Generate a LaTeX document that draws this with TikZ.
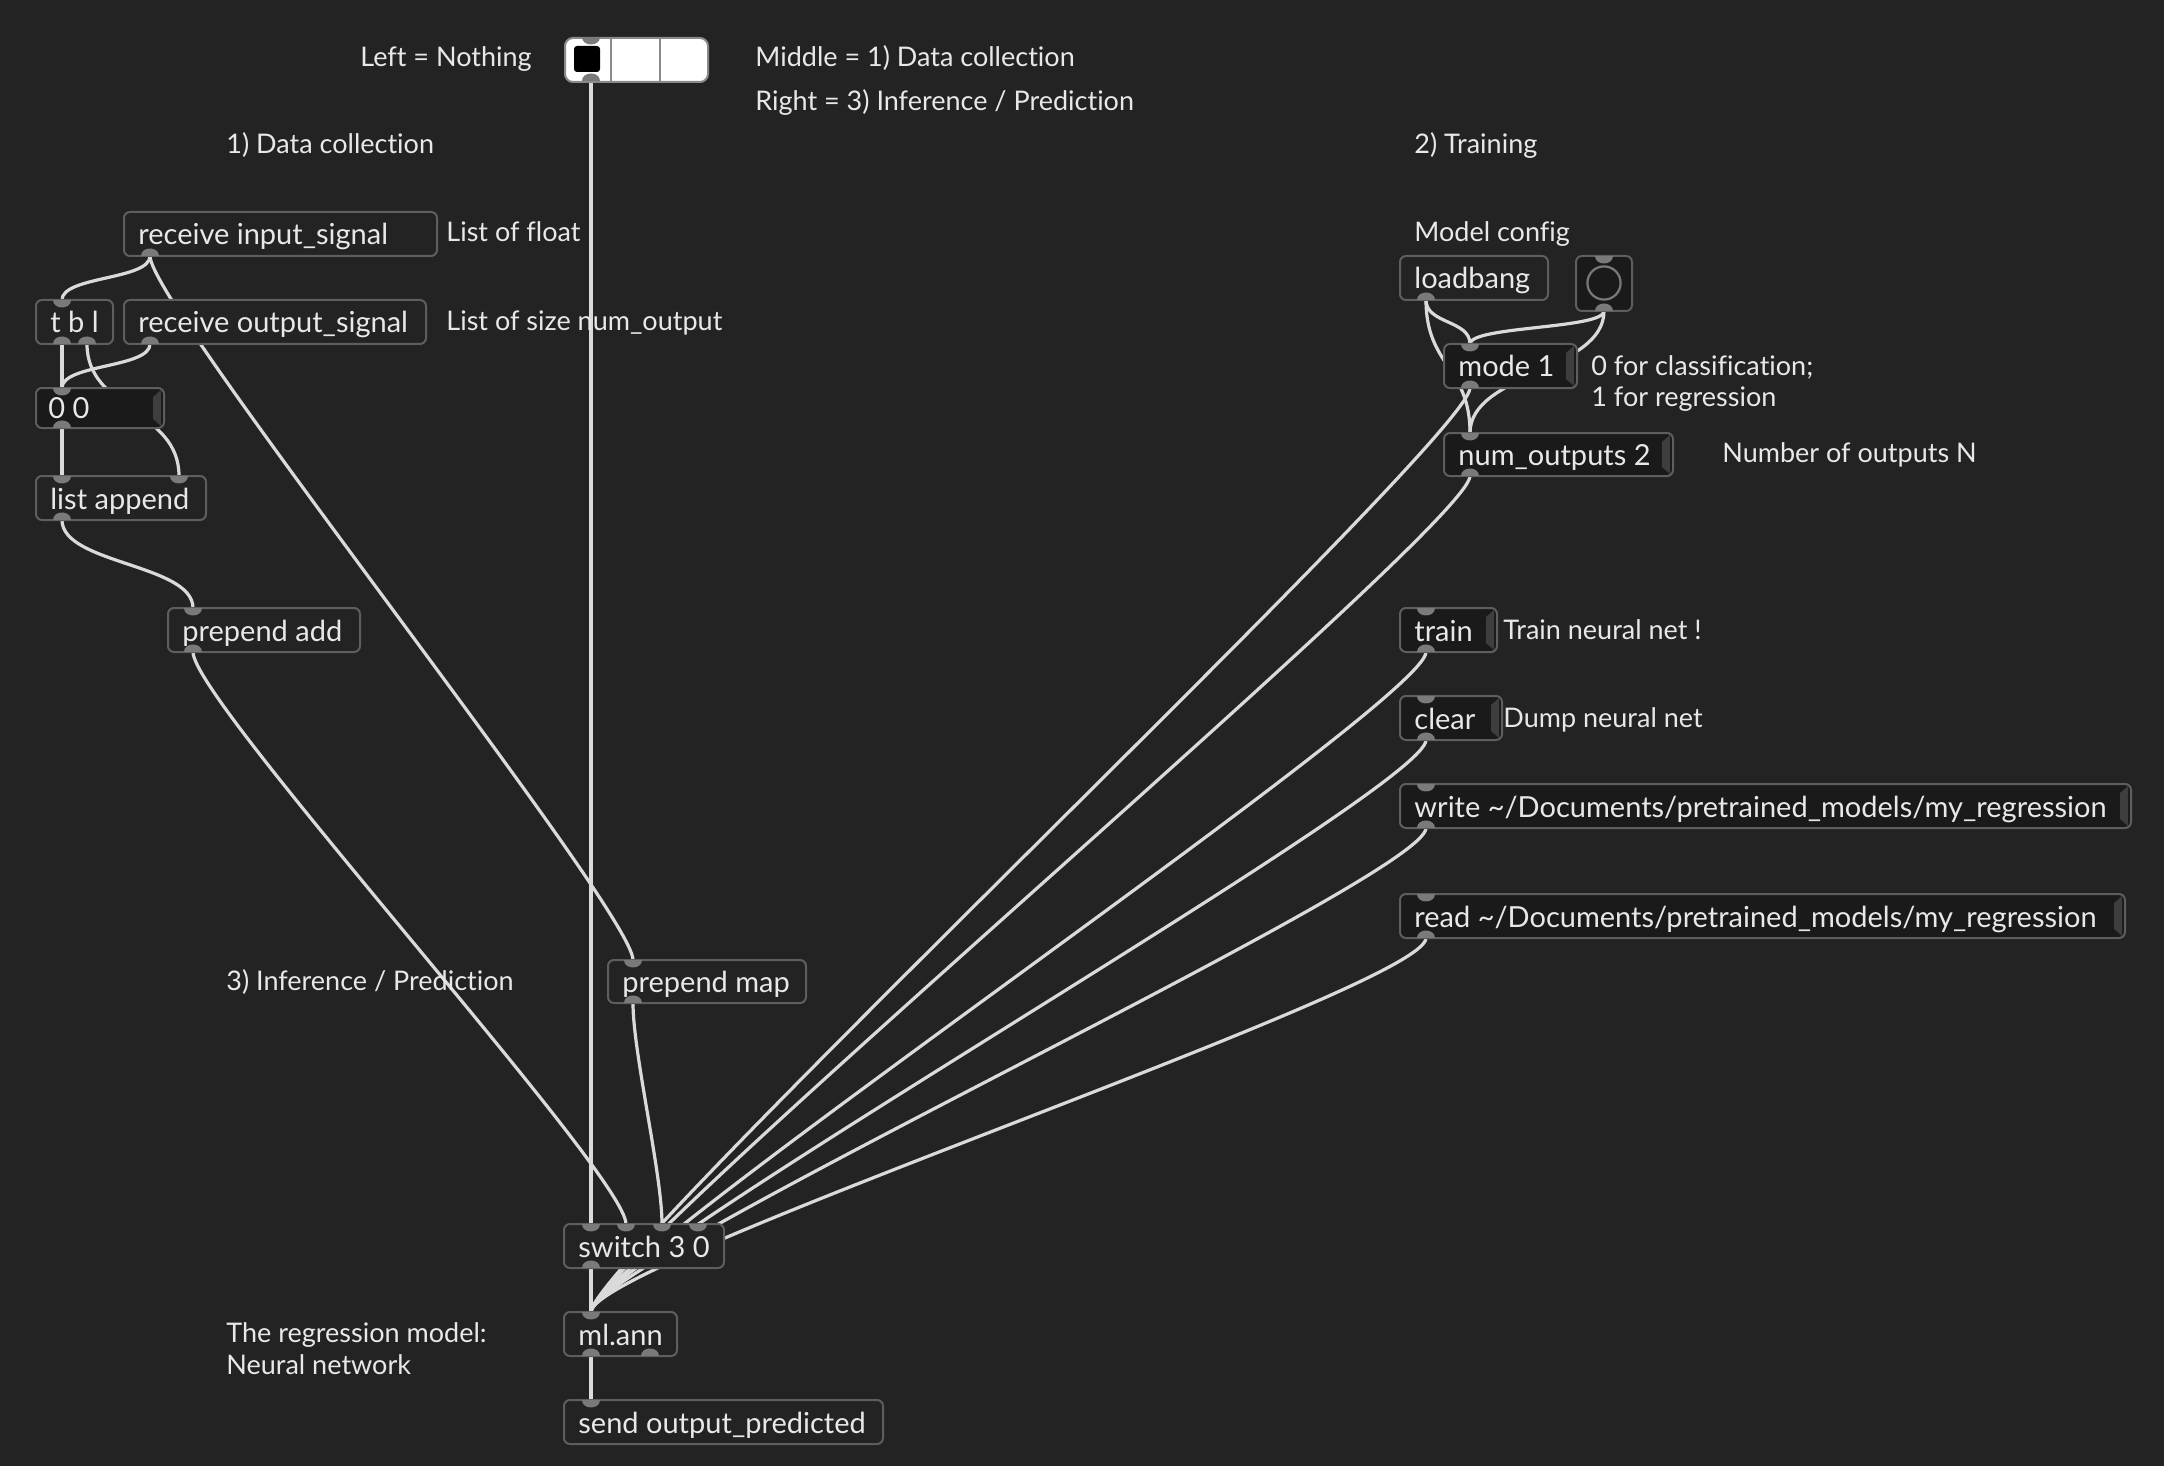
\documentclass[tikz,border=0pt]{standalone}
\usepackage{fontspec}
\setmainfont[Ligatures=NoCommon]{Lato}
\pgfdeclarelayer{backdrop}
\pgfdeclarelayer{cables}
\pgfsetlayers{backdrop,cables,main}

\definecolor{bgc}{HTML}{232323}
\definecolor{boxline}{HTML}{5E5E5E}
\definecolor{objfill}{HTML}{232323}
\definecolor{msgfill}{HTML}{1A1A1A}
\definecolor{tabc}{HTML}{3E3E3E}
\definecolor{portc}{HTML}{7A7A7A}
\definecolor{cablec}{HTML}{DADADA}
\definecolor{txtc}{HTML}{E8E8E8}
\definecolor{tabline}{HTML}{8A8A8A}

\tikzset{
  patch/.style={draw=boxline, line width=1pt, rounded corners=3pt, inner sep=0pt, outer sep=0pt},
  objbox/.style={patch, fill=objfill},
  msgbox/.style={patch, fill=msgfill},
  boxtext/.style={anchor=base west, inner sep=0pt, text=txtc, font=\fontsize{14.5}{17}\selectfont},
  comment/.style={anchor=base west, inner sep=0pt, text=txtc, font=\fontsize{13.5}{16}\selectfont},
  cable/.style={draw=cablec, line width=1.6pt, line cap=round},
}

% box: name, style, x1, y1, x2, y2, label  (pixel coordinates, y downwards)
\newcommand{\pbox}[7]{%
  \node[#2, anchor=north west, minimum width={(#5-#3)*0.5pt}, minimum height={(#6-#4)*0.5pt}] (#1) at (#3,#4) {};
  \node[boxtext] (#1-label) at ({#3+14},{(#4+#6)/2+11}) {#7};
}
% bevelled strip on the right of a message box
\newcommand{\msgtab}[1]{%
  \fill[tabc] ([shift={(-11,9)}]#1.north east) -- ([shift={(-3,2)}]#1.north east)
    -- ([shift={(-3,-2)}]#1.south east) -- ([shift={(-11,-9)}]#1.south east) -- cycle;
}
% inlet / outlet: name, x, y
\newcommand{\inport}[3]{%
  \coordinate (#1) at (#2,#3);
  \fill[portc] ({#2-9},#3) .. controls ({#2-9},{#3+10}) and ({#2+9},{#3+10}) .. ({#2+9},#3) -- cycle;
}
\newcommand{\outport}[3]{%
  \coordinate (#1) at (#2,#3);
  \fill[portc] ({#2-9},#3) .. controls ({#2-9},{#3-10}) and ({#2+9},{#3-10}) .. ({#2+9},#3) -- cycle;
}
% patch cord between two ports, optional vertical pull
\newcommand{\cord}[3][50]{%
  \draw[cable] (#2) .. controls ([yshift={-#1*0.5pt}]#2) and ([yshift={#1*0.5pt}]#3) .. (#3);
}

\begin{document}
\begin{tikzpicture}[x=0.5pt, y=-0.5pt]
\begin{pgfonlayer}{backdrop}
  \fill[bgc] (0,0) rectangle (2164,1466);
\end{pgfonlayer}
\useasboundingbox (0,0) rectangle (2164,1466);

% ---------- mode selector ----------
\node[draw=tabline, fill=white, line width=1pt, rounded corners=4pt, inner sep=0pt,
      minimum width={(707-564)*0.5pt}, minimum height={(81-37)*0.5pt}, anchor=north west] (tab) at (564,37) {};
\draw[tabline, line width=1pt] (611,37) -- (611,81) (660,37) -- (660,81);
\fill[black, rounded corners=1.5pt] (574,46) rectangle (600,72);
\inport{tab-in}{591}{37}
\outport{tab-out}{591}{81}

\node[comment] (c-left) at (360,67) {Left = Nothing};
\node[comment] (c-mid) at (755,67) {Middle = 1) Data collection};
\node[comment] (c-right) at (755,111) {Right = 3) Inference / Prediction};

% ---------- 1) data collection ----------
\node[comment] (c-data) at (226,154) {1) Data collection};
\pbox{rin}{objbox}{124}{212}{437}{256}{receive input\_signal}
\outport{rin-o}{150}{256}
\node[comment] (c-float) at (446,242) {List of float};

\pbox{tbl}{objbox}{36}{300}{113}{344}{t b l}
\inport{tbl-i}{62}{300}
\outport{tbl-o0}{62}{344}
\outport{tbl-o1}{87}{344}

\pbox{rout}{objbox}{124}{300}{426}{344}{receive output\_signal}
\outport{rout-o}{150}{344}
\node[comment] (c-size) at (446,331) {List of size num\_output};

\node[msgbox, anchor=north west, minimum width={(164-36)*0.5pt}, minimum height={(428-388)*0.5pt}] (zz) at (36,388) {};
\node[boxtext] (zz-label) at (48,418) {0 0};
\msgtab{zz}
\inport{zz-i}{62}{388}
\outport{zz-o}{62}{428}

\pbox{lapp}{objbox}{36}{476}{206}{520}{list append}
\inport{lapp-i0}{62}{476}
\inport{lapp-i1}{179}{476}
\outport{lapp-o}{62}{520}

\pbox{padd}{objbox}{168}{608}{360}{652}{prepend add}
\inport{padd-i}{193}{608}
\outport{padd-o}{193}{652}

% ---------- 3) inference ----------
\node[comment] (c-inf) at (226,990) {3) Inference / Prediction};
\pbox{pmap}{objbox}{608}{960}{806}{1003}{prepend map}
\inport{pmap-i}{633}{960}
\outport{pmap-o}{633}{1003}

\pbox{sw}{objbox}{564}{1224}{724}{1268}{switch 3 0}
\inport{sw-i0}{591}{1224}
\inport{sw-i1}{626}{1224}
\inport{sw-i2}{662}{1224}
\inport{sw-i3}{698}{1224}
\outport{sw-o}{591}{1268}

\pbox{ann}{objbox}{564}{1312}{677}{1356}{ml.ann}
\inport{ann-i}{591}{1312}
\outport{ann-o0}{591}{1356}
\outport{ann-o1}{650}{1356}
\node[comment] (c-model1) at (226,1342) {The regression model:};
\node[comment] (c-model2) at (226,1374) {Neural network};

\pbox{send}{objbox}{564}{1400}{883}{1444}{send output\_predicted}
\inport{send-i}{591}{1400}

% ---------- 2) training ----------
\node[comment] (c-train) at (1414,154) {2) Training};
\node[comment] (c-config) at (1414,242) {Model config};

\pbox{lb}{objbox}{1400}{256}{1548}{300}{loadbang}
\outport{lb-o}{1426}{300}

\node[msgbox, anchor=north west, minimum width={(1632-1576)*0.5pt}, minimum height={(311-256)*0.5pt}] (bang) at (1576,256) {};
\draw[portc, line width=1.1pt] (1604,283) circle [radius=8.3pt];
\inport{bang-i}{1604}{256}
\outport{bang-o}{1604}{311}

\pbox{mode}{msgbox}{1444}{344}{1577}{388}{mode 1}
\msgtab{mode}
\inport{mode-i}{1470}{344}
\outport{mode-o}{1470}{388}
\node[comment] (c-mode1) at (1591,375) {0 for classification;};
\node[comment] (c-mode2) at (1591,407) {1 for regression};

\pbox{nout}{msgbox}{1444}{433}{1673}{476}{num\_outputs 2}
\msgtab{nout}
\inport{nout-i}{1470}{433}
\outport{nout-o}{1470}{476}
\node[comment] (c-nout) at (1722,462) {Number of outputs N};

\pbox{trn}{msgbox}{1400}{608}{1497}{652}{train}
\msgtab{trn}
\inport{trn-i}{1426}{608}
\outport{trn-o}{1426}{652}
\node[comment] (c-trn) at (1503,639) {Train neural net !};

\pbox{clr}{msgbox}{1400}{696}{1502}{740}{clear}
\msgtab{clr}
\inport{clr-i}{1426}{696}
\outport{clr-o}{1426}{740}
\node[comment] (c-clr) at (1503,727) {Dump neural net};

\pbox{wr}{msgbox}{1400}{784}{2131}{828}{write \textasciitilde/Documents/pretrained\_models/my\_regression}
\msgtab{wr}
\inport{wr-i}{1426}{784}
\outport{wr-o}{1426}{828}

\pbox{rd}{msgbox}{1400}{894}{2125}{938}{read \textasciitilde/Documents/pretrained\_models/my\_regression}
\msgtab{rd}
\inport{rd-i}{1426}{894}
\outport{rd-o}{1426}{938}

% ---------- patch cords ----------
\begin{pgfonlayer}{cables}
  \draw[cable] (tab-out) -- (sw-i0);
  \cord[24]{rin-o}{tbl-i}
  \cord{rin-o}{pmap-i}
  \draw[cable] (tbl-o0) -- (zz-i);
  \cord[66]{tbl-o1}{lapp-i1}
  \cord[24]{rout-o}{zz-i}
  \draw[cable] (zz-o) -- (lapp-i0);
  \cord[44]{lapp-o}{padd-i}
  \cord{padd-o}{sw-i1}
  \cord{pmap-o}{sw-i2}
  \draw[cable] (sw-o) -- (ann-i);
  \draw[cable] (ann-o0) -- (send-i);
  \cord[24]{lb-o}{mode-i}
  \cord[66]{lb-o}{nout-i}
  \cord[18]{bang-o}{mode-i}
  \cord[60]{bang-o}{nout-i}
  \cord{mode-o}{ann-i}
  \cord{nout-o}{ann-i}
  \cord{trn-o}{ann-i}
  \cord{clr-o}{ann-i}
  \cord{wr-o}{ann-i}
  \cord{rd-o}{ann-i}
\end{pgfonlayer}
\end{tikzpicture}
\end{document}
